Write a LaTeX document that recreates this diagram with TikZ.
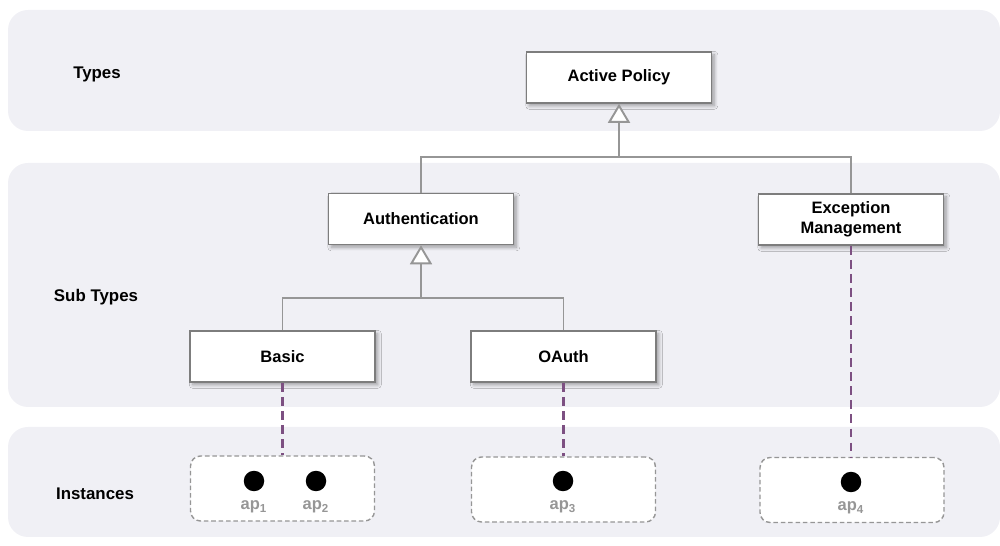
\documentclass[tikz,border=0pt]{standalone}
\usepackage{fontspec}
\setmainfont{Liberation Sans}
\usetikzlibrary{arrows.meta,shadows.blur}
\definecolor{bandfill}{RGB}{240,240,245}
\definecolor{linegrey}{RGB}{150,150,150}
\definecolor{boxborder}{RGB}{125,125,125}
\definecolor{dashpurple}{RGB}{125,80,130}
\definecolor{labelgrey}{RGB}{150,150,150}
\definecolor{instborder}{RGB}{150,150,150}
\tikzset{
  band/.style={fill=bandfill, draw=none, rounded corners=0.4cm},
  bandlabel/.style={font=\bfseries\fontsize{9.6}{11.5}\selectfont, text=black},
  classbox/.style={draw=boxborder, line width=0.9pt, fill=white, minimum width=3.7cm, minimum height=1.02cm,
    align=center, inner sep=2pt, font=\bfseries\fontsize{9.4}{11.3}\selectfont,
    blur shadow={shadow xshift=1.6pt, shadow yshift=-1.6pt, shadow blur steps=6, shadow blur radius=2pt, shadow opacity=35}},
  instbox/.style={draw=instborder, line width=0.8pt, dash pattern=on 2.6pt off 1.6pt, fill=white,
    rounded corners=0.2cm, minimum width=3.68cm, minimum height=1.3cm},
  gen/.style={draw=linegrey, line width=1.1pt},
  genarrow/.style={gen, -{Triangle[open, length=0.38cm, width=0.44cm, fill=white]}},
  realize/.style={draw=dashpurple, line width=1.4pt, dash pattern=on 5pt off 3pt},
  dot/.style={circle, fill=black, minimum size=0.41cm, inner sep=0pt},
  aplabel/.style={font=\bfseries\fontsize{9.4}{11}\selectfont, text=labelgrey, inner sep=0pt}
}
\begin{document}
\begin{tikzpicture}[x=0.02cm,y=-0.02cm]
\useasboundingbox (0,0) rectangle (1000,546);
% bands
\fill[band] (8,10) rectangle (1000,131);
\fill[band] (8,163) rectangle (1000,407);
\fill[band] (8,427) rectangle (1000,537);
\node[bandlabel] (ltypes) at (97,74) {Types};
\node[bandlabel] (lsub) at (96,297) {Sub Types};
\node[bandlabel] (linst) at (95,494) {Instances};
% class boxes
\node[classbox] (ap) at (619,77.5) {Active Policy};
\node[classbox] (auth) at (421,219) {Authentication};
\node[classbox] (exc) at (851,219.5) {Exception\\Management};
\node[classbox] (basic) at (282.5,356.5) {Basic};
\node[classbox] (oauth) at (563.5,356.5) {OAuth};
% instance boxes
\node[instbox] (i1) at (282.5,488.5) {};
\node[instbox] (i2) at (563.5,489.5) {};
\node[instbox] (i3) at (852,490) {};
% realization lines
\draw[realize] (basic.south) -- (i1.north);
\draw[realize] (oauth.south) -- (i2.north);
\draw[realize] (exc.south) -- (exc.south |- i3.north);
% generalization
\coordinate (j1) at (619,157);
\coordinate (j2) at (421,298);
\draw[gen] (auth.north) |- (j1) -| (exc.north);
\draw[genarrow] (j1) -- (ap.south);
\draw[gen] (basic.north) |- (j2) -| (oauth.north);
\draw[genarrow] (j2) -- (auth.south);
% dots
\node[dot] (d1) at (254,481) {};
\node[dot] (d2) at (316,481) {};
\node[dot] (d3) at (563,481) {};
\node[dot] (d4) at (851,482) {};
\node[aplabel] (a1) at (254,507) {ap\textsubscript{1}};
\node[aplabel] (a2) at (316,507) {ap\textsubscript{2}};
\node[aplabel] (a3) at (563,507) {ap\textsubscript{3}};
\node[aplabel] (a4) at (851,508) {ap\textsubscript{4}};
\end{tikzpicture}
\end{document}
